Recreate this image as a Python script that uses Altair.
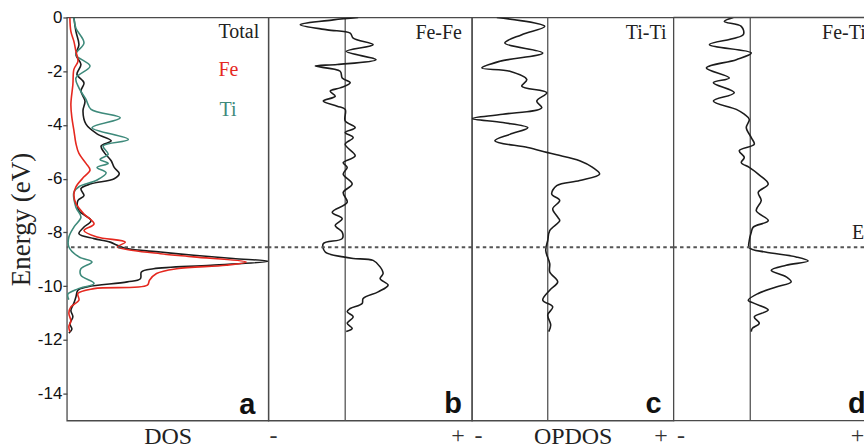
import altair as alt
import pandas as pd

# ---------------- data (energies in eV, DOS / OPDOS in arbitrary units) ----------------
E_FERMI = -8.55

TOTAL_E = [0, -0.52, -1.01, -1.38, -1.75, -2.12, -2.43, -2.74, -3.11, -3.48, -3.97, -4.33, -4.59, -4.78,
           -5.02, -5.33, -5.58, -5.81, -6.0, -6.19, -6.37, -6.63, -6.81, -7.19, -7.56, -7.8, -8.05, -8.23,
           -8.36, -8.48, -8.6, -8.73, -8.85, -8.97, -9.07, -9.22, -9.35, -9.47, -9.72, -9.84, -10.02,
           -10.15, -10.4, -10.63, -10.9, -11.14, -11.4, -11.6, -11.75]
TOTAL_V = [0.7, 0.9, 1.2, 0.9, 1.4, 1.0, 1.7, 1.4, 1.8, 1.6, 1.9, 3.0, 4.4, 3.4,
           3.7, 4.4, 4.7, 5.2, 4.7, 2.4, 1.4, 1.7, 1.1, 1.2, 2.4, 1.7, 1.2, 2.7,
           4.3, 5.0, 5.9, 9.3, 12.6, 16.5, 20.0, 14.3, 8.6, 7.4, 7.3, 6.0, 2.1,
           1.1, 0.9, 0.7, 0.4, 0.6, 0.3, 0.5, 0.2]

FE_E = [0, -0.52, -0.89, -1.26, -1.63, -1.93, -2.49, -3.23, -3.73, -4.2, -4.69, -5.06, -5.43, -5.68,
        -5.93, -6.3, -6.6, -6.93, -7.31, -7.68, -7.93, -8.17, -8.36, -8.54, -8.67, -8.79, -8.91, -9.1,
        -9.22, -9.35, -9.53, -9.78, -9.96, -10.09, -10.27, -10.52, -10.77, -11.0, -11.3, -11.5, -11.7]
FE_V = [0.3, 0.4, 0.7, 0.9, 1.1, 0.7, 0.6, 0.4, 0.5, 0.7, 0.9, 1.2, 1.9, 2.3,
        1.7, 0.9, 0.7, 0.9, 1.7, 2.7, 1.7, 3.0, 5.8, 5.0, 6.6, 9.3, 12.6, 17.8,
        15.8, 10.9, 8.9, 8.2, 8.0, 2.7, 1.1, 1.2, 0.4, 0.2, 0.4, 0.2, 0.3]

TI_E = [0, -0.4, -0.95, -1.38, -1.81, -2.25, -2.62, -3.05, -3.42, -3.73, -4.1, -4.54, -4.78, -5.09,
        -5.28, -5.43, -5.58, -5.78, -6.05, -6.3, -6.5, -7.06, -7.43, -7.8, -8.17, -8.54, -8.91, -9.1,
        -9.35, -9.6, -9.9, -10.1, -10.3, -10.5]
TI_V = [0.7, 0.9, 1.7, 0.9, 2.3, 0.9, 1.2, 1.9, 2.4, 5.3, 2.5, 6.1, 3.6, 4.1,
        3.3, 4.1, 3.0, 3.9, 3.0, 1.2, 0.7, 0.9, 1.4, 0.7, 0.2, 0.2, 1.2, 2.5,
        1.4, 1.4, 2.7, 1.1, 0.1, 0.2]

FEFE_E = [0, -0.09, -0.27, -0.46, -0.58, -0.77, -1.01, -1.26, -1.57, -1.75, -1.81, -2.0, -2.25, -2.43,
          -2.62, -2.74, -2.93, -3.11, -3.3, -3.42, -3.85, -4.1, -4.28, -4.47, -4.72, -5.15, -5.4, -5.58,
          -5.83, -6.2, -6.51, -6.88, -7.25, -7.49, -7.74, -7.99, -8.23, -8.42, -8.73, -8.91, -8.97,
          -9.04, -9.28, -9.53, -9.72, -9.96, -10.21, -10.46, -10.64, -10.83, -10.95, -11.14, -11.38,
          -11.57, -11.69]
FEFE_V = [1.3, -1.2, -4.5, -1.8, 0.5, 0.8, 2.8, 0.1, 3.1, -0.8, -3.0, -0.5, -0.3, 0.5,
          -0.5, -1.5, -1.0, -2.2, -0.8, 0.0, 0.0, 1.0, 0.0, 0.8, 0.0, 1.0, -0.2, 0.2,
          -0.2, 0.7, -0.2, 0.2, -1.3, -0.3, -1.0, -0.3, -0.3, -2.2, -2.0, -0.2, 0.8,
          2.8, 3.5, 3.8, 3.5, 4.3, 3.3, 1.8, 1.7, 0.5, 0.2, 0.8, 0.2,
          0.7, 0.1]

TITI_E = [0, -0.33, -0.64, -0.95, -1.32, -1.63, -1.88, -2.0, -2.31, -2.56, -2.8, -3.11, -3.36, -3.6,
          -3.76, -3.91, -4.1, -4.35, -4.59, -4.84, -5.02, -5.11, -5.33, -5.58, -5.83, -6.07, -6.26,
          -6.57, -6.81, -7.12, -7.43, -7.56, -7.93, -8.3, -8.67, -9.16, -9.47, -9.84, -10.15, -10.52,
          -10.77, -11.07, -11.44, -11.69]
TITI_V = [-5.1, -0.3, -2.6, -4.3, -0.5, -4.8, -6.6, -3.8, -2.1, -2.6, -0.1, -1.1, -0.6, -4.5,
          -7.6, -4.5, -2.0, -3.8, -5.3, -2.0, -0.1, 0.9, 3.2, 4.5, 5.2, 3.2, 0.9,
          0.4, 1.2, 0.5, 1.0, 1.2, 0.2, 0.0, -0.2, 0.2, 0.2, 1.0, 0.2, -0.5,
          0.5, 0.0, 0.3, 0.1]

FETI_E = [0, -0.15, -0.33, -0.64, -1.01, -1.32, -1.57, -1.88, -2.25, -2.43, -2.8, -3.11, -3.42, -3.6,
          -3.79, -4.1, -4.47, -4.72, -4.96, -5.21, -5.4, -5.58, -5.83, -6.2, -6.51, -6.81, -7.19,
          -7.56, -7.8, -7.99, -8.3, -8.57, -8.73, -8.91, -9.06, -9.22, -9.41, -9.65, -9.84, -10.03,
          -10.27, -10.52, -10.64, -10.89, -11.14, -11.38, -11.57, -11.69]
FETI_V = [-1.7, -2.6, -0.9, -0.7, -4.1, 0.1, -1.4, -4.4, -2.1, -3.7, -1.6, -3.7, -1.4, -0.6,
          -0.1, -0.4, 0.1, 0.4, -1.1, -0.6, -0.9, -0.1, 0.8, 1.8, 0.8, 1.1, 0.6,
          1.8, 0.3, 0.1, -0.1, -0.1, 1.5, 4.6, 5.8, 3.6, 2.1, 3.6, 4.1, 2.6,
          0.8, -0.2, 0.4, 1.8, 0.4, 0.9, 0.2, 0.1]

Y_TICKS = [-14, -12, -10, -8, -6, -4, -2, 0]

# ---------------- style ----------------
SERIF = "Liberation Serif"
SANS = "Liberation Sans"
BORDER = "#4a4a4a"
RED = "#e5281f"
TEAL = "#3e8a7b"
LINE = "#1c1c1c"
H = 404
W_A, W_B, W_C, W_D = 202, 204, 202, 191
BOTTOM_FS = 24

yscale = alt.Scale(domain=[-15, 0], nice=False, zero=False)

Y_AXIS_A = alt.Axis(values=Y_TICKS, labelExpr="'' + datum.value", grid=False, domain=False,
                    tickSize=4, tickColor=BORDER, tickWidth=1.3, labelPadding=1,
                    labelFont=SANS, labelFontSize=17, labelColor="#111111",
                    title="Energy (eV)", titleFont=SERIF, titleFontSize=27,
                    titleFontWeight="normal", titleColor="#222222", titlePadding=2)


def frame(E, V, name):
    return pd.DataFrame({"E": E, "v": V, "series": name, "i": range(len(E))})


def fermi(y_axis):
    return alt.Chart(pd.DataFrame({"E": [E_FERMI]})).mark_rule(
        color="#555555", strokeWidth=1.8, strokeDash=[3.5, 3.2]
    ).encode(y=alt.Y("E:Q", scale=yscale, axis=y_axis))


def label(text, x, y, color="#222222", align="left", size=20, font=SERIF, weight="normal", clip=False):
    return alt.Chart(pd.DataFrame({"t": [text]})).mark_text(
        align=align, baseline="alphabetic", font=font, fontSize=size, fontWeight=weight,
        color=color, clip=clip
    ).encode(text="t:N", x=alt.value(x), y=alt.value(y))


# ---------------- panel a : DOS ----------------
dos = pd.concat([frame(TOTAL_E, TOTAL_V, "Total"), frame(TI_E, TI_V, "Ti"), frame(FE_E, FE_V, "Fe")])
lines_a = alt.Chart(dos).mark_line(interpolate="catmull-rom", strokeWidth=1.6, clip=True).encode(
    x=alt.X("v:Q", scale=alt.Scale(domain=[0, 20], nice=False),
            axis=alt.Axis(title="DOS", labels=False, ticks=False, domain=False, grid=False,
                          titleFont=SERIF, titleFontSize=BOTTOM_FS, titleFontWeight="normal",
                          titleColor="#222222", titleY=4, titleBaseline="top")),
    y=alt.Y("E:Q", scale=yscale, axis=Y_AXIS_A),
    color=alt.Color("series:N", scale=alt.Scale(domain=["Total", "Ti", "Fe"], range=[LINE, TEAL, RED]),
                    legend=None),
    order=alt.Order("i:Q"),
)
panel_a = alt.layer(
    lines_a, fermi(Y_AXIS_A),
    label("Total", 152, 21), label("Fe", 152, 59, color=RED), label("Ti", 153, 99, color=TEAL),
    label("a", W_A - 13, H - 7, align="right", size=29, font=SANS, weight="bold", color="#111111"),
).properties(width=W_A, height=H)


# ---------------- OPDOS panels ----------------
def opdos_panel(E, V, name, domain, width, ticks, title, tag, tag_x, name_x, name_align, clip=False,
                extra=()):
    df = frame(E, V, name)
    xs = alt.Scale(domain=domain, nice=False, zero=False)
    x_axis = alt.Axis(values=ticks, labelExpr="datum.value < 0 ? '-' : '+'", ticks=False,
                      domain=False, grid=False, labelFlush=False, labelFont=SERIF,
                      labelFontSize=BOTTOM_FS, labelColor="#333333", labelPadding=3,
                      title=title if title else "", titleFont=SERIF, titleFontSize=BOTTOM_FS,
                      titleFontWeight="normal", titleColor="#222222", titleY=4, titleBaseline="top")
    line = alt.Chart(df).mark_line(interpolate="catmull-rom", strokeWidth=1.6, color=LINE, clip=True).encode(
        x=alt.X("v:Q", scale=xs, axis=x_axis),
        y=alt.Y("E:Q", scale=yscale, axis=None),
        order=alt.Order("i:Q"),
    )
    zero = alt.Chart(pd.DataFrame({"v": [0.0]})).mark_rule(color="#555555", strokeWidth=1.3).encode(
        x=alt.X("v:Q", scale=xs, axis=x_axis))
    layers = [zero, line, fermi(None),
              label(name, name_x, 22, align=name_align, clip=clip),
              label(tag, tag_x, H - 8, align="right" if not clip else "left", size=29, font=SANS,
                    weight="bold", color="#111111", clip=clip)]
    layers += list(extra)
    return alt.layer(*layers).properties(width=width, height=H)


panel_b = opdos_panel(FEFE_E, FEFE_V, "Fe-Fe", [-7.7, 12.7], W_B, [-7.25, 11.25], None,
                      "b", W_B - 10, W_B - 10, "right")
panel_c = opdos_panel(TITI_E, TITI_V, "Ti-Ti", [-7.6, 12.6], W_C, [-7.0, 11.3], "OPDOS",
                      "c", W_C - 12, W_C - 7, "right")

border_d = alt.Chart(pd.DataFrame({"E": [0, -15]})).mark_rule(color=BORDER, strokeWidth=1.3).encode(
    y=alt.Y("E:Q", scale=yscale, axis=None))
panel_d = opdos_panel(FETI_E, FETI_V, "Fe-Ti", [-7.7, 11.4], W_D, [-7.0, 10.7], None,
                      "d", 175, 149, "left", clip=True,
                      extra=[border_d, label("E", 179, 222, clip=True)]
                      ).properties(view=alt.ViewBackground(strokeOpacity=0))

chart = alt.hconcat(panel_a, panel_b, panel_c, panel_d, spacing=0, bounds="flush").properties(
    padding={"left": 6, "top": 7, "right": 0, "bottom": 0}, background="white"
).configure_view(stroke=BORDER, strokeWidth=1.3)

chart.save("out.html", embed_options={"renderer": "svg", "actions": False})
